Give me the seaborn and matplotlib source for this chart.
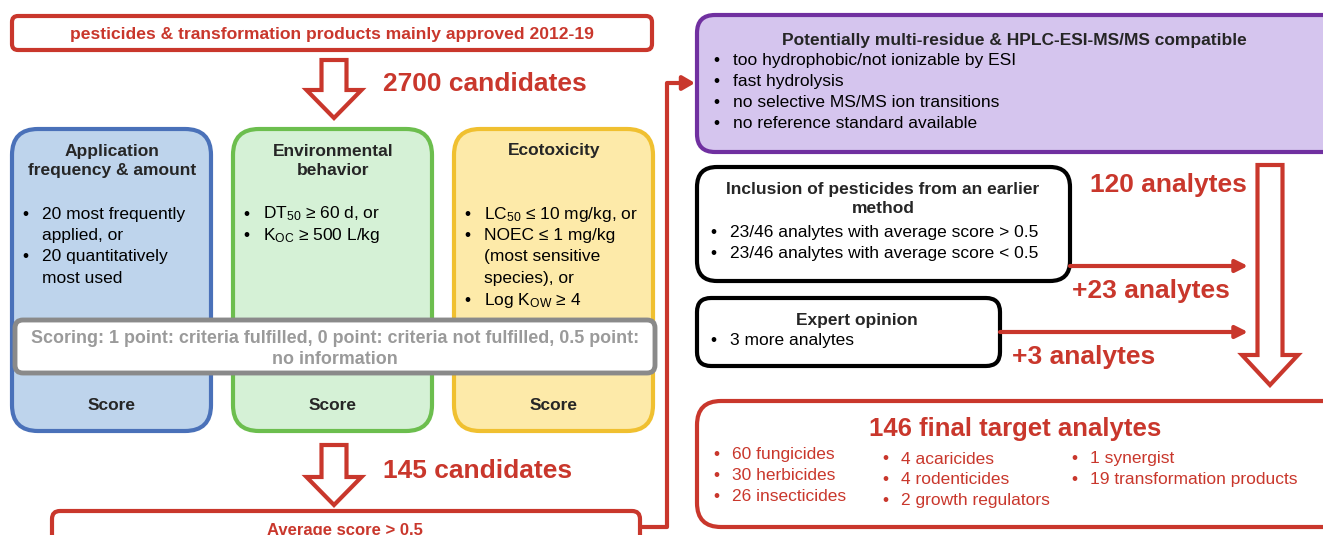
import matplotlib
matplotlib.use("Agg")
import matplotlib.pyplot as plt
import seaborn as sns
from matplotlib.patches import FancyBboxPatch, Polygon

# flow counts and labels
source_label = "pesticides & transformation products mainly approved 2012-19"
n_candidates = 2700
n_scored = 145
n_compatible = 120
n_earlier = 23
n_expert = 3
n_final = 146

criteria_titles = ["Application\nfrequency & amount", "Environmental\nbehavior", "Ecotoxicity"]
criteria_bullets = [
    [["20 most frequently", "applied, or"], ["20 quantitatively", "most used"]],
    [["DT$_{50}$ ≥ 60 d, or"], ["K$_{OC}$ ≥ 500 L/kg"]],
    [["LC$_{50}$ ≤ 10 mg/kg, or"], ["NOEC ≤ 1 mg/kg", "(most sensitive", "species), or"], ["Log K$_{OW}$ ≥ 4"]],
]
criteria_fill = ["#bed4ec", "#d5f1d6", "#fdeaa9"]
criteria_edge = ["#4a71b9", "#6cbe4e", "#f0c030"]
scoring_text = "Scoring: 1 point: criteria fulfilled, 0 point: criteria not fulfilled, 0.5 point:\nno information"
threshold_label = "Average score > 0.5"

compat_title = "Potentially multi-residue & HPLC-ESI-MS/MS compatible"
exclusion_reasons = ["too hydrophobic/not ionizable by ESI", "fast hydrolysis",
                     "no selective MS/MS ion transitions", "no reference standard available"]
earlier_title = "Inclusion of pesticides from an earlier\nmethod"
earlier_bullets = ["23/46 analytes with average score > 0.5", "23/46 analytes with average score < 0.5"]
expert_title = "Expert opinion"
expert_bullets = ["3 more analytes"]

final_counts = [60, 30, 26, 4, 4, 2, 1, 19]
final_names = ["fungicides", "herbicides", "insecticides", "acaricides", "rodenticides",
               "growth regulators", "synergist", "transformation products"]
final_columns = [3, 3, 2]

RED = "#c9372c"
FONT = ["Liberation Sans Narrow", "Liberation Sans", "DejaVu Sans"]

sns.set_theme(style="white")
plt.rcParams["font.family"] = FONT
plt.rcParams["mathtext.default"] = "regular"

fig = plt.figure(figsize=(13.23, 5.35), dpi=100)
ax = fig.add_axes([0, 0, 1, 1])
ax.set_xlim(0, 1323)
ax.set_ylim(535, 0)
ax.axis("off")


def box(x, y, w, h, fc, ec, lw=2.5, r=14):
    ax.add_patch(FancyBboxPatch((x, y), w, h, boxstyle=f"round,pad=0,rounding_size={r}",
                                fc=fc, ec=ec, lw=lw, zorder=2))


def hollow_arrow(cx, y0, y1, shaft=25, head=55, head_len=28):
    pts = [(cx - shaft / 2, y0), (cx + shaft / 2, y0), (cx + shaft / 2, y1 - head_len),
           (cx + head / 2, y1 - head_len), (cx, y1), (cx - head / 2, y1 - head_len),
           (cx - shaft / 2, y1 - head_len)]
    ax.add_patch(Polygon(pts, closed=True, fc="white", ec=RED, lw=3, zorder=3))


def bullets(x, y, items, step=21.5, indent=20, color="black", size=12.5):
    for item in items:
        lines = item if isinstance(item, list) else [item]
        ax.text(x, y, "•", ha="left", va="center", fontsize=size, color=color, zorder=5)
        for ln in lines:
            ax.text(x + indent, y, ln, ha="left", va="center", fontsize=size, color=color, zorder=5)
            y += step
    return y


# source box
box(12, 16, 640, 34, "white", RED, lw=3, r=6)
ax.text(332, 34, source_label, ha="center", va="center", fontsize=12.6,
        fontweight="bold", color=RED, zorder=5)

hollow_arrow(334, 60, 118)
ax.text(383, 84, f"{n_candidates} candidates", ha="left", va="center",
        fontsize=19, fontweight="bold", color=RED)

# criteria boxes
for i, (title, items) in enumerate(zip(criteria_titles, criteria_bullets)):
    x0 = 12 + i * 221
    box(x0, 129, 199, 302, criteria_fill[i], criteria_edge[i], lw=3, r=26)
    ty = 161 if "\n" in title else 151
    ax.text(x0 + 100, ty, title, ha="center", va="center", fontsize=12.5,
            fontweight="bold", linespacing=1.4, zorder=5)
    bullets(x0 + 10, 214, items)
    ax.text(x0 + 100, 405, "Score", ha="center", va="center", fontsize=12.5,
            fontweight="bold", zorder=5)

box(15, 320, 640, 53, "white", "#8a8a8a", lw=3.5, r=8)
ax.text(335, 349, scoring_text, ha="center", va="center", fontsize=12.9,
        fontweight="bold", color="#9a9a9a", linespacing=1.25, zorder=6)

hollow_arrow(334, 445, 505)
ax.text(383, 471, f"{n_scored} candidates", ha="left", va="center",
        fontsize=19, fontweight="bold", color=RED)

box(52, 511, 588, 60, "white", RED, lw=3, r=8)
ax.text(345, 530, threshold_label, ha="center", va="center", fontsize=12,
        fontweight="bold", color=RED, zorder=5)

# connector to right column
ax.plot([640, 667, 667, 684], [527, 527, 83, 83], color=RED, lw=3, zorder=1,
        solid_capstyle="butt")
ax.annotate("", xy=(695, 83), xytext=(680, 83),
            arrowprops=dict(arrowstyle="-|>,head_length=0.6,head_width=0.35",
                            color=RED, lw=3, shrinkA=0, shrinkB=0))

# compatibility box (runs past the right edge)
box(697, 15, 700, 137, "#d5c5ee", "#7030a0", lw=3, r=18)
ax.text(1014, 40, compat_title, ha="center", va="center", fontsize=12.5, fontweight="bold", zorder=5)
bullets(713, 60, exclusion_reasons, step=21.3, indent=20)

# added analytes boxes
box(697, 167, 373, 114, "white", "black", lw=3, r=20)
ax.text(883, 199, earlier_title, ha="center", va="center", fontsize=12.5,
        fontweight="bold", linespacing=1.4, zorder=5)
bullets(710, 232, earlier_bullets, indent=20)

box(697, 298, 303, 68, "white", "black", lw=3, r=14)
ax.text(857, 320, expert_title, ha="center", va="center", fontsize=12.5, fontweight="bold", zorder=5)
bullets(710, 340, expert_bullets, indent=20)

for ys, xs in [(266, 1070), (332, 1000)]:
    ax.annotate("", xy=(1248, ys), xytext=(xs, ys),
                arrowprops=dict(arrowstyle="-|>,head_length=0.6,head_width=0.3",
                                color=RED, lw=3, shrinkA=0, shrinkB=0))

ax.text(1090, 185, f"{n_compatible} analytes", ha="left", va="center",
        fontsize=19, fontweight="bold", color=RED)
ax.text(1072, 291, f"+{n_earlier} analytes", ha="left", va="center",
        fontsize=19, fontweight="bold", color=RED)
ax.text(1012, 357, f"+{n_expert} analytes", ha="left", va="center",
        fontsize=19, fontweight="bold", color=RED)

hollow_arrow(1270, 165, 385, shaft=25, head=56, head_len=30)

# final box (runs past the right edge)
box(697, 401, 700, 126, "white", RED, lw=3, r=24)
ax.text(1015, 429, f"{n_final} final target analytes", ha="center", va="center",
        fontsize=18.5, fontweight="bold", color=RED, zorder=5)
col_x = [713, 882, 1071]
col_y = [455, 459, 459]
k = 0
for cx, cy, n in zip(col_x, col_y, final_columns):
    items = [f"{c} {nm}" for c, nm in zip(final_counts[k:k + n], final_names[k:k + n])]
    bullets(cx, cy, items, step=20.7, indent=19, color=RED)
    k += n

fig.savefig("out.png", dpi=100)
